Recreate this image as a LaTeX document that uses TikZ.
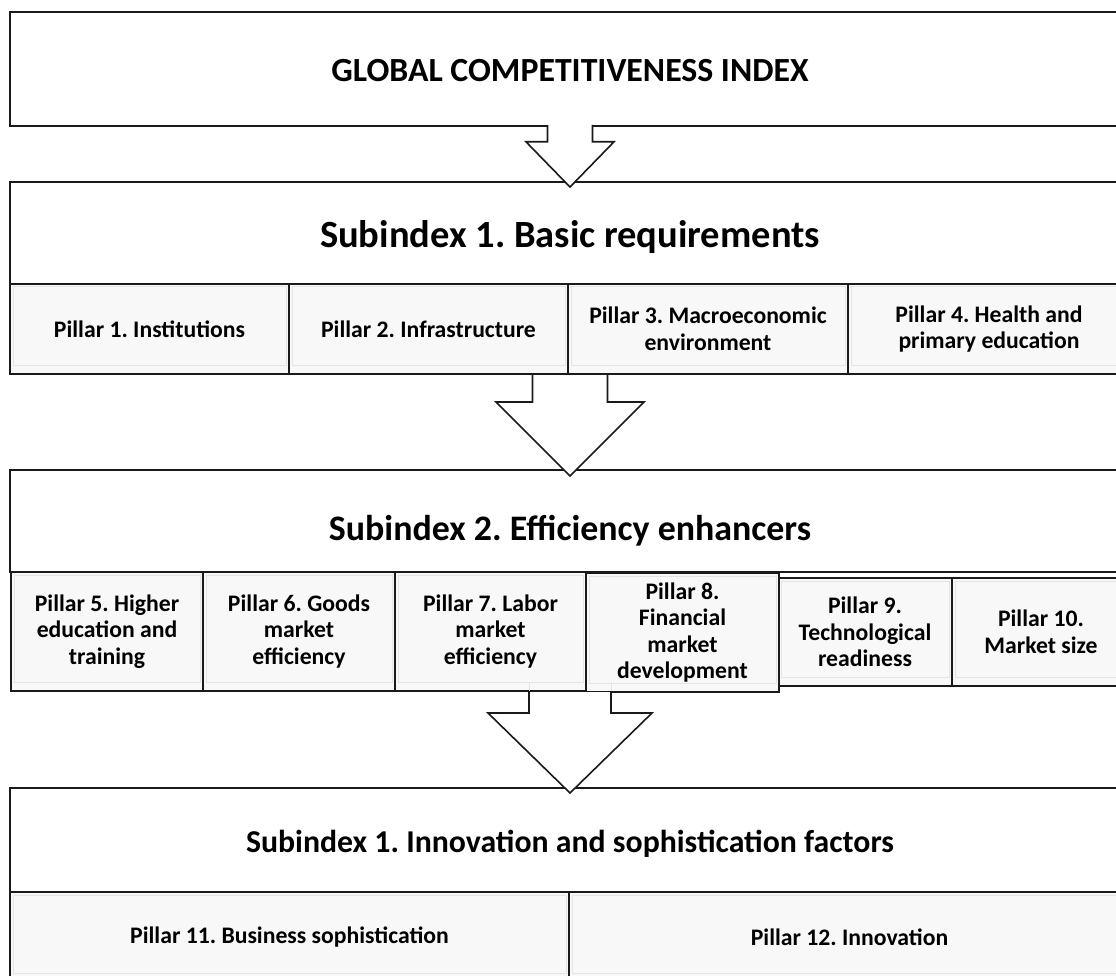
\documentclass[tikz,border=0pt]{standalone}
\usepackage{fontspec}
\setmainfont{Carlito}
\usetikzlibrary{calc}
\definecolor{ink}{HTML}{1A1A1A}
\definecolor{pillarfill}{HTML}{F8F8F8}
\definecolor{bevel}{HTML}{E4E4E4}
% block arrow: #1 stem top, #2 tip target, #3 stem half width,
% #4 head half width, #5 shoulder depth, #6 tip overshoot
\newcommand\blockarrow[6]{%
  \draw[arrowshape] ($(#1)+(-#3,0)$) -- ($(#1)+(-#3,#5)$) -- ($(#1)+(-#4,#5)$)
    -- ($(#2)+(0,#6)$) -- ($(#1)+(#4,#5)$) -- ($(#1)+(#3,#5)$) -- ($(#1)+(#3,0)$);}
\begin{document}
\frenchspacing
\begin{tikzpicture}[x=1pt,y=-1pt,
  box/.style={draw=ink, line width=1.6pt, fill=white, rectangle, anchor=north west,
    inner sep=0pt, outer sep=0pt, align=center},
  size/.style 2 args={minimum width=#1pt, minimum height=#2pt},
  titlefont/.style={font=\fontsize{33.8}{40}\selectfont\bfseries,
    text height=25.8pt, text depth=0pt},
  headfont/.style={font=\fontsize{38.5}{46}\selectfont\bfseries,
    text height=37pt, text depth=7.7pt},
  headfonttwo/.style={font=\fontsize{35.9}{43}\selectfont\bfseries,
    text height=45pt, text depth=7pt},
  headfontsmall/.style={font=\fontsize{31.8}{38}\selectfont\bfseries,
    text height=32.3pt, text depth=6.4pt},
  pillar/.style={box, fill=pillarfill, font=\fontsize{23.7}{26.5}\selectfont\bfseries,
    path picture={\draw[bevel, line width=1pt]
      ([shift={(3pt,-3pt)}]path picture bounding box.north west) rectangle
      ([shift={(-3pt,9pt)}]path picture bounding box.south east);}},
  arrowshape/.style={draw=ink, line width=1.6pt, fill=white, line join=miter},
  ghost/.style={draw=bevel, line width=1pt}]
\useasboundingbox (0,0) rectangle (1116,976);
\clip (0,0) rectangle (1116,976);

% top level index
\node[box, titlefont, size={1120}{114}] (gci) at (10,12) {GLOBAL COMPETITIVENESS INDEX};

% subindex 1 and its pillars
\node[box, headfont, size={1120}{102}] (sub1) at (10,182) {Subindex 1. Basic requirements};
\node[pillar, size={279}{90}] (p1) at (10,284) {Pillar 1. Institutions};
\node[pillar, size={279}{90}] (p2) at (289,284) {Pillar 2. Infrastructure};
\node[pillar, size={280}{90}] (p3) at (568,284) {Pillar 3. Macroeconomic\\environment};
\node[pillar, size={282}{90}] (p4) at (848,284) {Pillar 4. Health and\\primary education};

% subindex 2 and its pillars
\node[box, headfonttwo, size={1120}{102}] (sub2) at (10,470) {Subindex 2. Efficiency enhancers};
\node[pillar, size={192}{119}] (p5) at (11,572) {Pillar 5. Higher\\education and\\training};
\node[pillar, size={192}{119}] (p6) at (203,572) {Pillar 6. Goods\\market\\efficiency};
\node[pillar, size={191}{119}] (p7) at (395,572) {Pillar 7. Labor\\market\\efficiency};
\node[pillar, size={174}{108}] (p9) at (778,578) {Pillar 9.\\Technological\\readiness};
\node[pillar, size={178}{108}] (p10) at (952,578) {Pillar 10.\\Market size};
\node[pillar, size={193}{119}] (p8) at (586,573) {Pillar 8.\\Financial\\market\\development};

% subindex 3 and its pillars
\node[box, headfontsmall, size={1120}{104}] (sub3) at (10,788) {Subindex 1. Innovation and sophistication factors};
\node[pillar, size={559}{90}] (p11) at (10,892) {Pillar 11. Business sophistication};
\node[pillar, size={561}{90}] (p12) at (569,892) {Pillar 12. Innovation};

% arrows between the levels
\coordinate (a1) at ($(gci.south)+(0,-1.2)$);
\coordinate (a2) at ($(sub1.south |- p1.south)+(0,1)$);
\coordinate (a3) at ($(sub2.south |- p7.south)+(0,1)$);
\blockarrow{a1}{sub1.north}{22.5}{44}{17}{5}
\blockarrow{a2}{sub2.north}{37.5}{74}{27}{6}
\blockarrow{a3}{sub3.north}{41}{82}{21}{5}
% faint stem edges of the last arrow showing through the pillar row
\draw[ghost] ($(a3)+(-41,-10)$) -- ($(a3)+(-41,-1.5)$);
\draw[ghost] ($(a3)+(41,-10)$) -- ($(a3)+(41,-1.5)$);
\end{tikzpicture}
\end{document}
